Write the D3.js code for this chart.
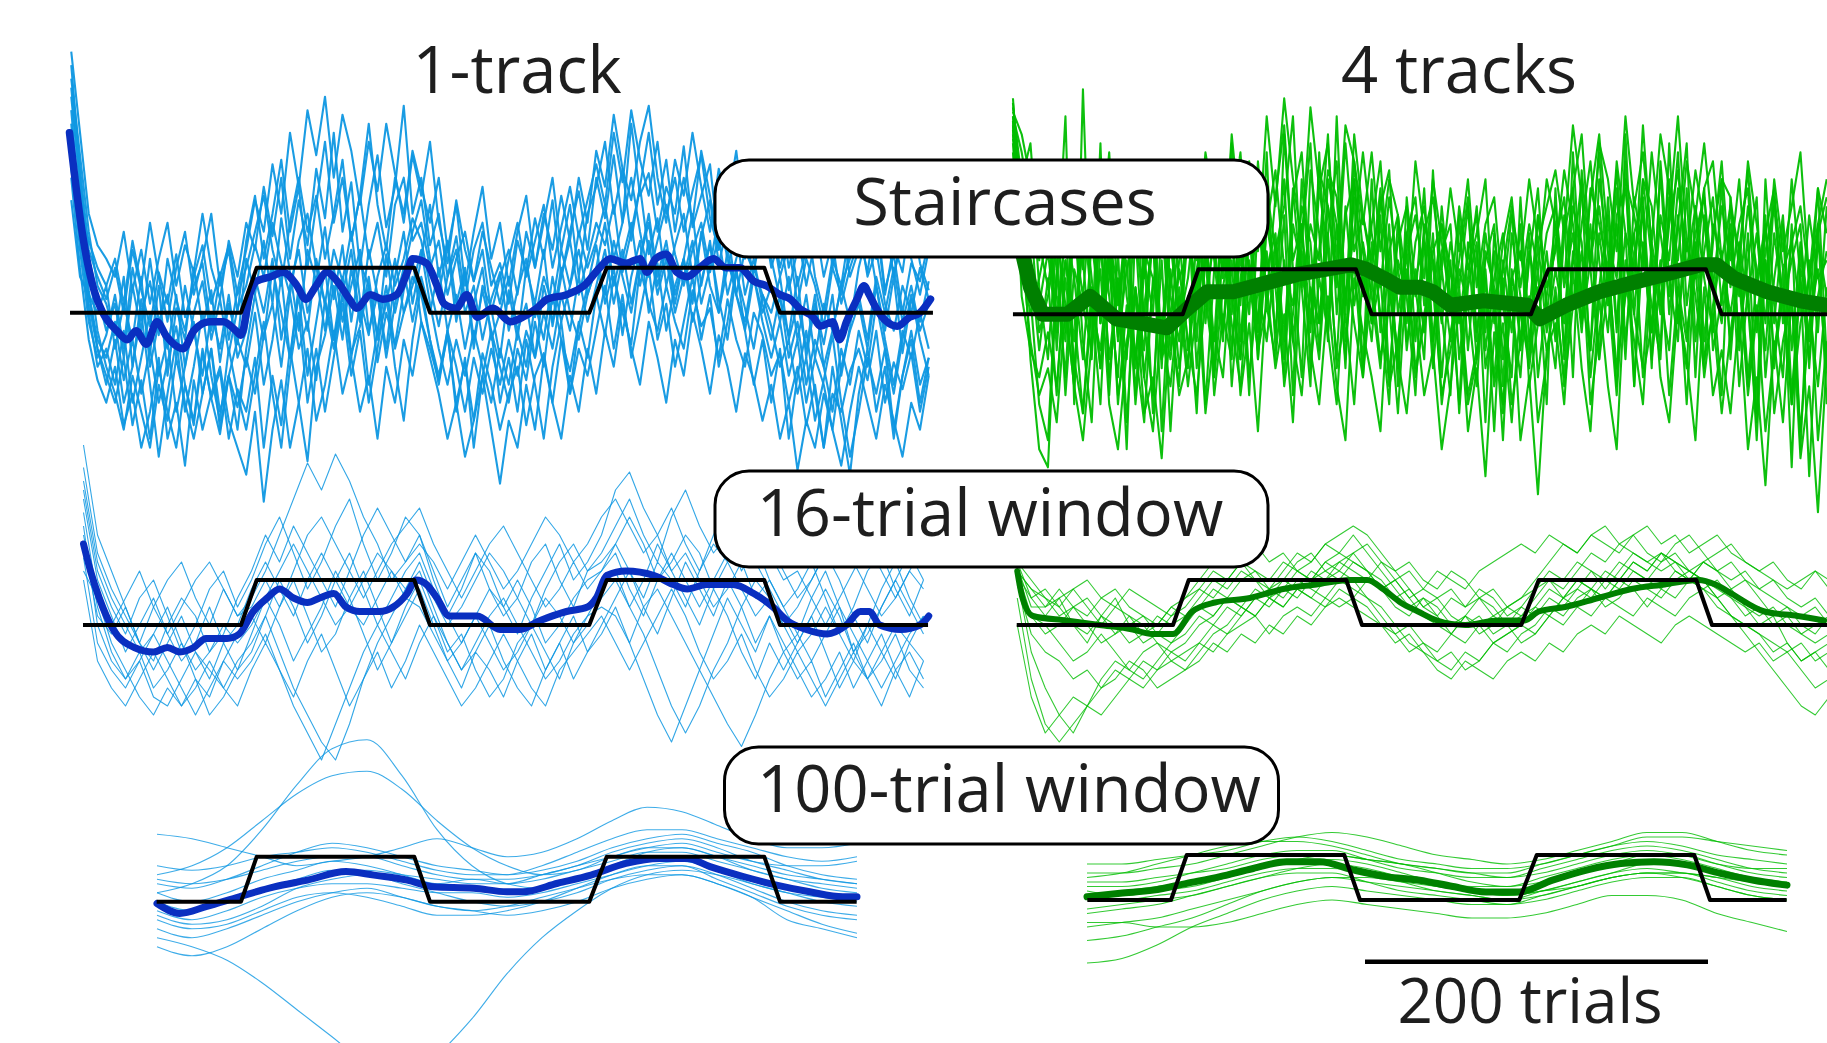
<!DOCTYPE html>
<html>
<head>
<meta charset="utf-8">
<script src="https://cdn.jsdelivr.net/npm/d3@7"></script>
<style>
  html, body { margin: 0; padding: 0; background: #fff; }
  svg { display: block; }
</style>
</head>
<body>
<svg id="chart" width="1827" height="1043"></svg>
<script>
// ---------------------------------------------------------------
// Target schedule (trials, level in tenths of one step: 10 = high)
// ---------------------------------------------------------------
const targetTrials = [0, 100, 109, 199, 208, 299, 309, 399, 408, 500];
const targetLevels = [0, 0, 10, 10, 0, 0, 10, 10, 0, 0];

// ---------------------------------------------------------------
// 1-track staircases: one run per session, sampled every 5 trials from trial 3
// ---------------------------------------------------------------
const stair1Start = 3, stair1Step = 5;
const stair1Runs = [
  [58,40,22,15,12, 8,18,5,14,2,12,20,6,15,9,22,10,3,16,8, 20,14,28,17,30,12,25,15,32,21, 40,18,29,10,24,35,19,28,46,22, 30,15,22,8,17,3,14,20,6,11, 2,16,9,21,12,25,8,18,27,14, 30,21,35,20,42,26,31,18,28,22, 37,19,26,33,15,24,30,12,22,17, 20,8,15,2,12,6,-3,10,4,14, 18,9,22,5,13,0,11,7,16],
  [45,22,5,-8,-14, -20,-10,-25,-15,-28,-12,-22,-30,-16,-24,-8,-19,-27,-14,-21, -10,-18,-5,2,-12,4,-8,-2,-15,3, -6,8,-9,-3,6,-11,0,-7,5,12, -2,-8,-15,-5,-20,-11,-24,-9,-16,-26, -18,-12,-25,-14,-9,-20,-6,-13,-2,-10, 4,-5,8,0,-7,10,2,-4,6,-2, -8,5,-3,1,-10,3,-6,-12,0,-5, -14,-9,-20,-12,-25,-16,-30,-18,-22,-13, -8,-15,-4,-20,-11,-17,-9,-22,-12],
  [52,35,18,6,2, -5,8,-12,3,-9,6,-14,1,-6,10,-3,5,-11,2,-7, 12,4,16,2,21,9,-4,14,7,19, 3,15,-2,11,6,-5,13,0,9,18, 25,12,4,15,-2,9,-8,6,1,-10, 5,-6,10,2,14,-3,8,16,4,12, 20,15,24,9,18,28,13,21,6,15, 22,8,17,25,11,19,4,14,9,20, 12,3,-5,8,-10,2,-7,4,-14,-3, 10,18,6,-4,8,-9,3,-2,7],
  [40,18,4,-6,-10, -2,-15,-6,-18,-8,-20,-11,-3,-16,-25,-9,-19,-13,-28,-17, -22,-10,-30,-14,-25,-8,-20,-33,-12,-5, 6,-6,10,-2,14,4,-8,8,18,2, 12,24,8,16,2,10,-6,5,-4,-12, -20,-8,-15,-2,-12,4,-6,-18,-3,6, 15,2,10,-5,8,16,0,11,-4,6, 12,-2,7,15,3,-6,9,1,-8,4, -3,-12,-6,-18,-10,-24,-15,-5,-20,-32, -22,-10,-18,-8,-26,-14,-4,-16,-10],
  [35,14,-2,-10,-5, 4,-8,10,0,7,-5,12,3,-4,8,15,2,9,-6,5, 14,25,18,33,22,40,28,45,35,48, 30,44,36,24,38,27,42,31,20,35, 26,38,20,11,25,14,7,18,10,2, 12,20,8,16,24,10,19,28,17,25, 33,24,40,29,45,34,26,38,22,30, 18,27,35,21,14,25,19,30,13,22, 10,17,5,14,22,8,0,12,6,19, 25,13,20,4,15,9,23,11,5],
  [30,10,-6,-15,-20, -12,-25,-18,-30,-22,-10,-28,-20,-34,-15,-26,-18,-12,-24,-30, -36,-22,-42,-26,-15,-30,-20,-8,-24,-16, -4,-18,-10,-22,-14,-28,-12,-20,-6,-14, -2,-10,-18,-28,-20,-32,-24,-14,-26,-38, -24,-30,-16,-26,-10,-20,-28,-14,-22,-8, -18,-4,-12,2,-8,-16,-2,-10,-20,-6, -14,0,-8,-18,-5,-12,-22,-9,-15,-24, -16,-28,-20,-35,-24,-30,-18,-26,-34,-22, -12,-20,-28,-16,-24,-32,-20,-26,-14],
  [48,28,12,4,-4, 2,-10,6,-4,12,-2,-8,4,-12,0,7,-6,3,-9,1, 6,15,8,20,11,4,16,22,10,2, 14,7,18,3,-5,8,15,6,12,21, 16,6,-3,8,14,0,6,-6,3,9, -4,5,12,-1,8,2,14,6,18,10, 16,24,12,20,30,18,8,16,24,13, 6,14,20,9,17,4,12,18,8,0, 6,-2,8,-6,4,-10,2,-4,6,12, 20,8,14,2,-4,6,0,10,3],
  [55,32,14,8,3, 10,0,14,5,-3,9,2,13,-1,6,11,-4,8,15,4, 10,18,26,14,6,20,30,18,26,12, 22,34,16,26,12,20,8,24,30,16, 20,10,16,4,12,18,7,14,0,8, 14,4,18,10,22,14,26,16,30,20, 36,28,44,32,25,38,46,30,20,34, 26,40,28,18,32,24,36,20,28,14, 22,10,18,6,14,20,8,16,2,10, 16,26,12,20,8,18,12,4,14],
  [42,20,0,-12,-8, -16,-4,-20,-10,0,-14,-6,-22,-12,-2,-18,-8,-26,-14,-6, -12,0,-16,-6,8,-10,4,-14,-2,10, -6,4,-10,2,-16,-4,6,-8,0,8, 4,-6,-14,-4,-12,-22,-10,-18,-8,-16, -6,-14,-4,-10,0,-8,4,-4,8,-2, 6,14,2,12,20,6,16,4,12,0, 8,16,2,10,22,12,4,-4,8,-2, -10,-2,-14,-6,-20,-10,-16,-26,-12,-4, 2,-8,6,-6,-16,-4,-10,0,-8],
  [25,8,4,0,6, -8,2,-6,8,-12,-2,4,-10,6,-4,-14,0,-8,4,-10, -4,8,0,12,-6,6,14,0,8,-4, 10,-2,6,14,-4,4,-10,2,10,-2, 8,0,10,-4,4,-8,2,10,-6,0, 8,-4,2,-10,6,-2,10,0,-6,4, 10,4,16,8,0,12,20,6,14,2, 12,2,18,6,0,14,4,-2,10,4, 0,8,-6,2,-8,4,-12,-4,6,-2, 4,-6,8,0,10,-2,6,-4,2],
  [50,30,10,-4,-12, -18,-26,-14,-22,-30,-16,-24,-10,-20,-28,-18,-8,-22,-14,-26, -8,4,-6,10,0,-10,6,-4,12,2, -8,4,14,-2,8,-6,2,12,0,6, 14,2,-8,-16,-6,-14,-4,-12,-20,-8, -16,-4,-12,2,-6,8,-2,6,14,4, 10,20,6,14,2,12,22,8,16,4, 12,22,6,16,0,10,18,4,12,2, -6,4,-10,-2,-16,-6,-12,-22,-8,-16, -4,-12,2,-8,-18,-6,4,-6,-14],
  [38,24,16,10,6, 12,2,16,6,20,8,-2,10,18,4,12,22,6,14,0, 16,26,12,22,34,18,28,10,24,38, 20,30,16,26,42,24,14,30,22,36, 28,20,30,14,24,6,18,28,12,20, 6,18,26,10,20,30,14,24,8,22, 28,38,22,32,16,28,40,24,34,18, 30,20,36,26,14,28,22,32,18,26, 14,24,10,18,6,16,26,10,20,8, 14,26,12,22,8,18,28,14,20],
  [32,16,2,-8,-16, -6,-20,-12,0,-16,-32,-18,-6,-22,-12,0,-14,-24,-8,-18, -26,-14,-2,-18,-30,-12,0,-20,-8,-22, -10,2,-14,-4,-20,-8,4,-12,-24,-6, 6,-6,-16,-4,-22,-10,-30,-14,-4,-20, -10,-22,-6,-16,-28,-12,-2,-18,-8,-14, -4,6,-8,4,-10,0,10,-6,2,-12, -2,8,-6,4,-12,-2,10,-4,-16,-6, -20,-8,-28,-14,-4,-18,-30,-12,-24,-36, -18,-8,-22,-12,-28,-14,-6,-20,-10]
];
// Session average of the 1-track staircases: [trial, level]
const stair1Mean = [[2,40],[10,16],[16,5],[21,0],[29,-4],[35,-6],[40,-4],[46,-7],[52,-2],[57,-5],[67,-8],[73,-4],[82,-2],[90,-2],[97,-4],[100,-5],[105,4],[109,7],[117,8],[124,9],[132,6],[137,3],[143,6],[149,9],[155,7],[162,3],[166,1],[174,4],[181,3],[189,4],[195,9],[198,12],[206,11],[212,6],[216,2],[223,1],[229,4],[235,-1],[244,1],[254,-2],[261,-1],[269,1],[275,3],[286,4],[296,6],[305,10],[311,12],[320,11],[328,12],[332,9],[337,12],[343,13],[349,9],[355,8],[362,10],[370,12],[377,10],[385,10],[393,7],[400,6],[408,4],[414,3],[419,1],[427,-1],[431,-3],[438,-2],[442,-6],[446,-2],[452,3],[456,6],[459,4],[463,1],[469,-2],[475,-3],[482,-1],[488,0],[494,3]];

// ---------------------------------------------------------------
// 4 interleaved tracks: staircases sampled every 5 trials from trial 3
// ---------------------------------------------------------------
const stair4Start = 3, stair4Step = 5;
const stair4Runs = [
  [46,30,38,12, 28,-8,20,-15,24,2,-20,18,-5,26,-12,14,-22,22,0,-16, 30,-6,24,-14,34,4,-10,28,-4,36, -8,40,10,-14,32,18,-6,44,2,26,-12, 30,-4,20,-16,26,6,-10,32,0, -18,22,-8,14,-24,18,2,-14,26,-6,10,-20, 28,-10,36,4,-8,30,14,-16,40,0,24,-12,34,8,-6,28,-14,22,6,-18, 26,-8,18,-22,30,2,-14,20,-30,12,-4,24],
  [42,18,4,-20, -28,10,-14,22,-6,-24,16,-10,8,-30,20,-2,-18,12,-26,6, -12,18,-20,10,24,-8,14,-18,22,2, 16,-10,28,6,-16,36,-4,20,-12,30,8, -6,22,-14,12,4,-18,18,-8,24, 4,-20,16,-10,8,-26,12,-4,20,-16,-2,14, -6,22,-14,32,10,-10,26,-2,18,-16,30,12,-8,38,2,-12,24,8,-4,30, -10,16,2,-24,22,-12,10,-34,14,-6,20,-20],
  [48,20,-10,-30, -34,8,44,-20,50,-6,38,-18,14,-24,6,-8,18,-26,10,-12, 4,-22,16,-6,26,-16,8,20,-10,14, -4,22,-18,30,4,-10,18,34,-6,12,-14, 16,0,-20,22,-8,10,-4,18,-14, 12,-22,6,16,-12,2,-28,10,-6,18,-14,4, 20,-8,12,30,-14,6,22,-4,34,-16,16,2,-10,26,10,-20,14,28,-8,4, 18,-16,6,-28,12,-2,20,-18,8,-36,4,14],
  [44,36,24,16, 6,22,-4,28,12,-10,24,4,-14,18,30,-2,20,-12,26,8, 14,32,-2,20,10,38,-6,18,30,4, 26,42,12,20,-2,32,24,6,38,14,22, 10,28,2,16,24,-6,20,12,-2, 16,6,24,-4,12,20,-10,8,14,0,22,6, 14,32,20,4,26,40,16,8,30,22,10,36,18,4,28,14,32,20,6,24, 12,30,4,18,-2,26,10,16,0,22,8,12],
  [40,14,-6,-18, -12,-24,2,-16,-28,-6,10,-20,-30,-8,4,-22,-14,-32,0,-18, -10,8,-22,-4,-14,12,-18,-2,-26,6, -12,0,-24,14,-8,-20,4,-16,-28,8,-4, -14,-26,6,-10,-22,0,-18,-8,-30, -16,2,-26,-12,-36,-4,-20,6,-28,-14,-40,-8, -2,-20,10,-12,-26,4,-16,-30,8,-6,-20,12,-14,-24,2,-10,-28,6,-18,-8, -22,0,-30,-14,-38,-6,-24,4,-32,-16,-44,-10],
  [47,26,10,2, 14,-4,20,8,-10,16,0,24,-6,10,18,-14,6,22,-8,12, 20,2,28,12,-6,24,16,0,34,10, 18,-6,26,36,8,14,40,0,22,30,4, 20,34,6,-8,18,26,2,14,20, 0,12,26,-6,18,4,10,24,-8,12,28,0, 16,26,2,20,34,12,-4,22,28,6,42,14,0,20,32,10,24,-6,16,34, 6,20,28,-4,14,24,2,30,8,-10,18,26],
  [38,8,22,-4, 4,16,-18,10,2,-8,20,-14,6,12,-20,2,16,-10,-2,18, -8,10,22,-14,6,18,-10,12,-2,26, 6,-14,20,10,-4,28,14,-10,24,2,16, 4,-12,14,22,-6,8,16,-12,10, -6,10,2,-16,14,6,-22,8,0,-10,16,-4, 10,-2,24,16,-8,18,2,28,-6,14,22,-10,8,30,-2,16,4,-12,20,12, 0,14,-14,8,20,-10,4,-20,10,2,-16,6],
  [45,40,30,20, 26,10,32,18,4,28,14,36,2,22,30,8,24,34,6,20, 28,12,36,24,8,40,20,32,14,44, 24,48,30,16,46,28,38,12,42,34,20, 36,14,30,22,6,34,18,26,10, 28,14,30,6,20,26,4,22,12,30,16,24, 32,18,42,26,10,38,30,14,44,24,36,16,40,28,12,34,22,38,18,30, 26,10,34,20,4,30,14,24,36,8,28,18],
  [43,4,-8,-14, -4,-16,8,-10,-22,2,-8,12,-18,-6,6,-14,-26,0,-10,10, -6,-18,4,-12,14,-2,-16,8,-8,2, -10,12,-6,-18,6,-2,18,-12,0,-20,10, -2,8,-16,-6,14,-12,-2,6,-18, -8,4,-20,-10,10,-16,-2,-24,2,-12,6,-8, 4,-14,14,-4,20,-10,6,-18,12,0,-12,16,4,-8,22,-4,10,-14,2,14, -6,8,-18,0,12,-22,-6,4,-26,-2,10,-12],
  [36,12,0,8, 18,0,12,-6,16,22,-2,8,26,4,-10,14,8,-4,20,-2, 8,26,4,16,30,0,22,10,-8,20, 32,10,2,24,16,-8,30,20,4,18,36, 18,6,26,10,-2,16,24,4,20, 10,-2,14,22,-8,8,18,2,-14,14,4,18, 24,6,18,-2,28,20,10,32,4,18,26,-4,22,12,36,2,18,26,8,-2, 16,4,24,10,-8,18,2,12,20,-12,16,4],
  [41,22,34,6, -10,18,2,-16,26,8,-12,14,-4,22,-18,10,28,-8,16,-2, 24,-12,12,30,-4,16,2,34,-10,20, 8,30,-6,16,38,-2,24,10,-10,34,14, -2,26,12,-12,18,4,28,-6,14, 20,-10,8,24,-4,14,-16,18,4,-8,22,2, -12,18,28,-2,12,36,4,20,-10,26,14,-4,32,0,20,38,-6,14,26,2, 20,-6,12,26,-14,8,22,-8,16,0,28,-10],
  [39,28,12,-8, 8,-18,12,0,-22,6,-12,16,-20,2,-8,-24,8,-4,-16,4, -16,2,14,-18,0,-10,18,-14,6,-6, 14,-16,0,20,-12,8,-4,-20,12,-2,-14, 8,-10,2,-22,10,-14,0,12,-20, -4,6,-18,-8,2,-14,8,-20,-6,4,-24,-10, 6,-16,2,14,-20,-4,10,-12,4,18,-14,-2,12,-18,6,-6,16,-10,0,-22, -4,10,-16,2,-26,-8,6,-20,-2,8,-28,-6],
  [44,10,26,14, 20,4,-6,24,10,30,-2,16,6,-10,26,12,0,32,4,-6, 18,6,30,16,-4,22,36,8,18,28, 14,24,44,6,20,12,32,26,0,40,22, 12,24,32,0,14,22,8,30,16, 2,24,10,18,30,-2,16,26,6,20,10,30, 20,8,28,40,12,24,6,34,18,10,30,24,2,22,44,16,8,28,34,12, 24,14,32,6,18,28,-2,16,24,8,20,30]
];
const stair4Mean = [[3,30],[7,16],[13,6],[20,0],[34,0],[47,4],[62,-1],[91,-3],[102,1],[114,5],[129,5],[148,7],[167,9],[196,11],[205,10],[215,8],[224,6],[236,6],[243,5],[253,2],[272,3],[297,2],[304,-1],[319,2],[338,5],[357,7],[377,9],[396,11],[405,11],[415,8],[434,5],[453,3],[468,2]];

// ---------------------------------------------------------------
// 16-trial moving window, 1 track: every 8 trials from trial 10
// ---------------------------------------------------------------
const win16aStart = 10, win16aStep = 8;
const win16aRuns = [
  [30,12, 4,-2,6,10,2,-6,0,8,12,4, 10, 18,24,16,8,14,22,28,18,10,16,24, 20, 12,4,10,16,8,2,6,14,18,10,4,12, 16, 22,28,20,14,24,30,22,16,20,12,18,10, 4, 8,14,6,-2,4,12,16,8,2,10],
  [22,0, -8,-12,-6,-14,-10,-4,-12,-16,-8,-2, 2, -4,4,10,2,-6,-2,6,12,4,-4,2, 8, 0,-8,-14,-6,-10,-16,-8,-2,-10,-4,2,-6, 0, 6,12,4,-2,6,14,8,2,10,4,-4,2, -6, -12,-8,-16,-10,-4,-12,-18,-10,-6,-12],
  [35,16, 8,2,-4,4,10,14,6,0,8,2, 6, 12,20,28,36,30,38,32,24,18,10,14, 20, 10,2,8,16,12,4,-2,6,12,18,10,14, 20, 30,34,26,20,12,16,10,4,8,14,6,10, 4, -2,6,12,4,-6,0,8,14,6,0],
  [15,-4, -10,-14,-8,-16,-18,-12,-6,-10,-14,-8, -4, 2,-6,-14,-20,-26,-30,-22,-12,-4,2,8, 12, 4,-4,-10,-6,0,-8,-14,-18,-10,-4,-12,-6, -2, 4,-4,-12,-20,-26,-18,-10,-2,6,0,-6,2, -4, -10,-16,-12,-6,-14,-8,-2,-10,-16,-8],
  [40,20, 12,4,-4,-10,-4,2,-6,-12,-4,0, 8, 14,8,2,10,16,10,4,0,6,12,8, 14, 6,0,4,10,16,12,6,0,8,14,18,12, 14, 18,12,6,14,10,4,12,18,14,8,2,6, 0, 4,10,16,10,2,-4,4,10,4,-2],
  [25,6, -4,-10,-16,-20,-14,-18,-12,-20,-16,-10, -2, 6,0,-8,-2,4,12,6,-2,-10,-4,4, 10, 2,-6,-2,-10,-16,-12,-4,0,-6,-12,-4,2, 8, 12,4,10,18,12,6,0,8,2,-6,-12,-4, -10, -4,2,-6,-14,-8,0,-6,-12,-4,2],
  [18,2, -2,4,-4,-8,0,6,2,-6,-2,6, 12, 20,14,22,16,10,4,12,20,26,20,14, 18, 14,8,14,20,14,8,12,18,24,20,14,18, 24, 28,22,16,20,26,18,12,20,26,30,22,18, 12, 6,10,16,20,14,8,2,6,12,8],
  [10,-8, -14,-18,-12,-6,-12,-18,-14,-8,-14,-18, -10, -4,-10,-16,-8,-2,-10,-18,-12,-6,-14,-8, 0, -6,-12,-18,-14,-8,-2,-8,-14,-18,-10,-6,-2, 2, -4,-10,-4,2,8,2,-6,-12,-8,-2,-10,-16, -12, -6,-12,-18,-12,-6,-12,-8,-2,-10,-14],
  [28,10, 2,-6,0,6,-2,-8,-4,4,-4,-10, -6, 2,10,4,-4,2,10,16,8,0,6,12, 16, 8,2,-4,2,8,4,10,4,-4,0,6,10, 12, 16,8,2,10,16,10,4,10,16,20,14,8, 2, -4,2,8,2,-6,-2,4,10,16,10],
  [32,14, 6,0,-6,-2,4,-4,-10,-6,0,-4, 0, 6,12,18,12,6,0,4,10,16,12,6, 4, -2,-8,-4,2,-4,-10,-6,0,6,2,-4,0, 6, 10,4,-2,-10,-18,-24,-18,-10,-4,4,10,6, 0, -6,-2,4,-2,-8,-12,-6,0,-4,-8],
  [20,4, -6,-12,-8,-2,-8,-14,-20,-14,-8,-12, -8, -2,-10,-18,-24,-30,-22,-14,-6,0,-6,-12, -4, 2,-4,-10,-4,2,6,0,-6,-12,-8,-2,2, 4, 2,-4,4,8,2,-4,-10,-16,-22,-27,-20,-12, -6, -2,-8,-2,4,-2,-8,-14,-8,-2,2],
  [12,6, 0,6,12,4,-2,4,10,14,8,2, 4, 10,4,12,20,24,18,12,6,12,18,22, 26, 18,12,6,12,18,22,16,10,4,8,14,8, 12, 18,24,18,10,14,20,16,8,14,20,24,16, 10, 12,6,0,6,12,18,12,6,12,18]
];
const win16aMean = [[10,18],[14,12],[19,6],[27,-1],[39,-5],[50,-6],[58,-5],[65,-6],[73,-5],[80,-3],[92,-3],[99,-2],[107,3],[115,6],[122,8],[130,6],[138,5],[145,6],[153,7],[160,4],[168,3],[179,3],[187,4],[195,7],[200,10],[206,9],[212,6],[219,2],[235,2],[248,-1],[259,-1],[271,1],[286,3],[298,4],[303,6],[309,11],[320,12],[336,11],[347,9],[355,8],[366,9],[381,9],[393,7],[404,4],[412,1],[423,-1],[435,-2],[446,0],[454,3],[459,3],[465,0],[477,-1],[488,0],[493,2]];

// ---------------------------------------------------------------
// 16-trial moving window, 4 tracks: every 8 trials from trial 11
// ---------------------------------------------------------------
const win16bStart = 11, win16bStep = 8;
const win16bRuns = [
  [14,6, 2,6,0,-4,2,6,0,-4,-2,2, 4,8,6,10,14,10,8,12,16,14,18,16, 20,16,12,8,4,6,2,-2,2,6,4,0,2, 6,10,8,12,16,14,18,20,16,14,18,20,16, 12,8,10,6,2,4,0,-2,2],
  [10,-6, -14,-20,-24,-18,-12,-8,-10,-6,-4,-8, -10,-6,-2,0,4,2,6,4,8,6,10,12, 10,6,2,-2,0,-4,-6,-2,-4,0,2,0,4, 2,6,4,8,6,10,8,12,10,8,12,10,8, 4,2,0,-2,-4,-6,-10,-14,-12],
  [6,-12, -22,-26,-22,-18,-20,-16,-12,-14,-10,-8, -6,-4,0,-2,2,6,4,8,6,10,12,10, 14,12,8,10,6,2,0,-2,2,0,-4,-2,0, 4,2,6,10,8,6,10,14,12,16,14,12,10, 6,8,4,0,2,-4,-8,-6,-10],
  [12,8, 6,4,8,10,6,4,8,6,4,2, 6,10,14,18,22,18,14,16,12,14,18,20, 22,20,16,12,14,10,8,12,10,6,8,4,6, 10,14,18,16,20,18,16,20,22,18,20,16,18, 20,16,14,12,10,8,10,12,8],
  [12,2, 0,-4,-8,-6,-2,-6,-10,-12,-8,-4, -2,2,0,4,2,6,8,6,10,8,6,10, 8,6,4,0,-4,-6,-8,-6,-10,-8,-4,-6,-2, 0,4,2,6,8,4,6,10,8,6,10,12,10, 8,6,4,2,4,0,-2,-4,-2],
  [13,4, 4,8,4,2,6,8,4,2,0,4, 2,6,10,8,12,10,6,8,12,10,14,12, 16,12,10,6,8,4,2,6,4,8,6,2,4, 8,12,10,14,12,8,12,16,14,12,14,10,8, 10,6,2,4,0,2,-2,0,2],
  [0,-16, -24,-20,-16,-18,-14,-10,-12,-8,-10,-6, -8,-4,-6,-2,0,2,-2,2,4,2,6,4, 6,4,0,-2,-6,-4,-8,-10,-6,-8,-4,-2,0, -2,2,0,4,2,6,4,2,6,4,2,6,8, 6,2,0,-2,-6,-4,-8,-6,-4],
  [10,2, -2,0,4,0,-4,-2,2,0,-4,-6, -4,0,2,6,4,8,6,10,8,12,10,14, 16,18,14,10,12,8,6,8,4,6,2,4,6, 8,10,6,8,12,10,14,12,10,14,16,12,10, 6,2,-2,-6,-10,-14,-18,-20,-16],
  [11,6, 8,4,0,-2,2,0,-4,-2,2,0, 2,4,8,6,10,12,8,10,14,16,12,14, 12,10,14,12,8,4,6,2,0,2,-2,0,-4, -2,2,6,4,8,12,10,14,12,16,14,12,14, 12,10,12,8,10,6,4,6,2],
  [14,10, 6,2,4,6,2,-2,0,2,-2,-4, 0,4,2,6,4,2,6,4,8,6,4,8, 6,10,8,4,2,6,4,0,2,-2,0,4,2, 4,8,6,10,8,6,10,8,4,8,6,10,14, 12,14,10,8,6,4,2,4,0],
  [12,8, 4,6,8,4,0,4,2,-2,0,4, 6,8,12,10,14,12,10,14,12,10,14,16, 14,12,8,10,6,8,12,10,8,12,14,16,18, 16,20,18,16,20,22,18,16,14,16,12,10,14, 16,18,14,12,14,10,8,12,10],
  [9,-2, -6,-8,-12,-10,-14,-12,-8,-10,-14,-12, -10,-8,-4,-6,-2,-4,0,-2,2,0,4,6, 4,2,0,-4,-2,-6,-10,-12,-8,-10,-12,-8,-6, -8,-4,-6,-2,0,-2,2,0,-2,-4,0,2,0, -2,-4,-6,-4,-8,-6,-4,-8,-6]
];
const win16bMean = [[11,12],[14,6],[20,2],[39,1],[58,0],[77,-1],[88,-2],[100,-2],[111,3],[124,5],[144,6],[163,8],[182,9],[201,10],[211,10],[220,8],[230,5],[240,3],[251,1],[267,0],[286,1],[301,1],[309,3],[324,4],[343,6],[362,8],[381,9],[400,10],[410,9],[419,7],[438,3],[457,2],[472,1]];

// ---------------------------------------------------------------
// 100-trial moving window: every 20 trials from trial 52
// ---------------------------------------------------------------
const win100aStart = 52, win100aStep = 20;
const win100aRuns = [
  [4,3,5,8,11,13,12,10,8,7,6,7,9,12,14,15,13,11,8,6,5],
  [-6,-8,-6,-3,0,2,3,1,-1,-2,-3,-2,0,3,5,6,4,1,-4,-6,-8],
  [2,0,2,5,7,9,8,6,4,5,4,6,8,11,13,14,12,9,7,5,4],
  [-3,-5,-4,-1,3,5,6,4,2,0,-1,0,2,5,7,8,6,3,0,-2,-3],
  [6,8,12,18,24,28,29,25,18,12,8,6,7,10,12,13,11,9,8,8,9],
  [-8,-10,-13,-18,-24,-30,-36,-38,-34,-26,-16,-8,-2,3,6,7,6,4,2,1,0],
  [0,-2,0,3,5,7,7,6,5,4,4,5,7,9,11,11,9,7,5,3,2],
  [8,7,8,10,11,12,11,9,7,6,6,8,11,14,16,16,14,12,10,9,10],
  [-4,-6,-5,-2,1,2,1,-1,-3,-3,-2,0,3,6,8,8,5,2,-1,-3,-4],
  [2,4,8,16,26,34,36,28,16,8,4,3,5,8,11,12,10,7,5,4,3],
  [-2,-4,-2,1,3,4,4,3,2,2,1,2,4,6,8,9,7,4,2,0,-1],
  [5,4,5,7,9,10,10,8,6,5,5,6,8,10,12,12,10,8,6,5,4],
  [-10,-12,-10,-6,-2,1,2,1,-1,-2,-1,1,3,5,6,6,4,1,-2,-5,-7],
  [15,14,12,10,8,9,10,12,14,12,10,11,14,18,21,20,17,14,12,12,13]
];
const win100aMean = [[52,-0.4],[65,-2.6],[80,-1.1],[99,1.1],[119,3.3],[138,4.8],[160,6.7],[176,5.9],[195,4.8],[210,3.3],[233,3],[252,2.2],[261,2.2],[281,4.1],[300,5.9],[320,8.5],[339,9.6],[355,9.6],[368,7.8],[387,5.6],[406,3.7],[425,2.2],[444,1.1],[452,1.1]];

const win100bStart = 52, win100bStep = 20;
const win100bRuns = [
  [6,6,7,8,10,12,14,15,14,12,10,9,8,9,11,13,15,15,13,11,10],
  [-2,-1,0,1,3,5,6,6,4,2,1,0,-1,0,2,4,5,5,3,1,0],
  [-14,-13,-10,-6,-3,0,2,3,2,1,0,-1,-1,1,3,5,6,5,3,1,0],
  [-9,-8,-6,-4,-1,2,4,5,4,3,2,1,0,2,4,6,7,6,5,3,2],
  [3,3,4,6,8,10,11,11,9,7,6,5,5,7,9,11,12,11,9,7,6],
  [1,2,3,4,6,8,9,9,8,6,4,3,3,5,7,9,10,9,7,5,4],
  [-5,-5,-6,-6,-5,-3,-1,0,-1,-2,-3,-4,-4,-3,-1,1,1,0,-3,-5,-7],
  [5,6,8,10,12,13,13,12,10,8,7,6,6,8,10,12,13,12,10,9,8],
  [-3,-2,-1,1,3,5,7,8,7,5,3,2,1,2,4,6,8,8,6,4,3],
  [8,8,9,10,11,13,14,13,11,9,8,7,7,8,10,12,14,14,13,12,11],
  [0,0,1,2,4,6,7,7,6,4,2,1,0,1,3,5,6,6,5,4,3],
  [2,1,2,3,5,7,9,10,9,8,6,4,3,4,6,8,10,10,8,6,5],
  [-6,-5,-4,-2,0,2,4,5,5,4,3,2,1,2,3,5,6,6,4,2,1],
  [4,4,5,6,7,9,10,10,9,8,7,6,5,6,8,10,11,10,8,7,7]
];
const win100bMean = [[52,0.7],[71,1.5],[90,2.2],[109,3.7],[128,5.2],[147,7],[166,8.5],[185,8.5],[204,6.7],[223,5.2],[242,4.4],[261,3],[280,1.8],[299,1.8],[318,4.4],[338,6.7],[357,8.1],[376,8.5],[395,7.8],[414,5.9],[433,4.4],[452,3.3]];

// Text
const columnTitles = ["1-track", "4 tracks"];
const rowLabels = ["Staircases", "16-trial window", "100-trial window"];
const scaleBarTrials = 200;
const scaleBarLabel = "200 trials";

// ---------------------------------------------------------------
// Layout
// ---------------------------------------------------------------
const svg = d3.select("#chart");
const PX_PER_TRIAL = 1.75;   // horizontal scale shared by every panel
const PX_PER_STEP = 45;      // one target step (10 tenths)

const BLUE = "#0e97e2", BLUE_DARK = "#0a2fc0";
const GREEN = "#00bd00", GREEN_DARK = "#008000";
const FONT = "'Open Sans', 'Noto Sans', sans-serif";
const INK = "#1e1e1e";

const panels = [
  { left: 66,     base: 312.7, tFrom: 2.3,  tTo: 495.4, start: stair1Start,  step: stair1Step,  runs: stair1Runs,  mean: stair1Mean,
    runColor: BLUE,  runWidth: 2.1, runOpacity: 0.95, runCurve: d3.curveLinear,
    meanColor: BLUE_DARK, meanWidth: 7.5, meanCurve: d3.curveMonotoneX },
  { left: 1007.7, base: 314.3, tFrom: 3,    tTo: 500,   start: stair4Start,  step: stair4Step,  runs: stair4Runs,  mean: stair4Mean,
    runColor: GREEN, runWidth: 2.1, runOpacity: 0.95, runCurve: d3.curveLinear,
    meanColor: GREEN_DARK, meanWidth: 15, meanCurve: d3.curveLinear },
  { left: 66,     base: 625,   tFrom: 9.7,  tTo: 492.6, start: win16aStart, step: win16aStep, runs: win16aRuns, mean: win16aMean,
    runColor: BLUE,  runWidth: 1.1, runOpacity: 0.85, runCurve: d3.curveLinear,
    meanColor: BLUE_DARK, meanWidth: 7, meanCurve: d3.curveMonotoneX },
  { left: 998,    base: 625,   tFrom: 10.7, tTo: 500,   start: win16bStart, step: win16bStep, runs: win16bRuns, mean: win16bMean,
    runColor: GREEN, runWidth: 1.1, runOpacity: 0.8, runCurve: d3.curveLinear,
    meanColor: GREEN_DARK, meanWidth: 6, meanCurve: d3.curveMonotoneX },
  { left: 66,     base: 901.7, tFrom: 51.8, tTo: 451.8, start: win100aStart, step: win100aStep, runs: win100aRuns, mean: win100aMean,
    runColor: BLUE,  runWidth: 1.1, runOpacity: 0.8, runCurve: d3.curveMonotoneX,
    meanColor: BLUE_DARK, meanWidth: 7, meanCurve: d3.curveMonotoneX },
  { left: 996,    base: 900,   tFrom: 52.2, tTo: 451.8, start: win100bStart, step: win100bStep, runs: win100bRuns, mean: win100bMean,
    runColor: GREEN, runWidth: 1.1, runOpacity: 0.8, runCurve: d3.curveMonotoneX,
    meanColor: GREEN_DARK, meanWidth: 7, meanCurve: d3.curveMonotoneX }
];

function targetPath(from, to) {
  const pts = [[from, 0]];
  targetTrials.forEach((t, i) => { if (t > from && t < to) pts.push([t, targetLevels[i]]); });
  pts.push([to, 0]);
  return pts;
}

panels.forEach(p => {
  const x = d3.scaleLinear().domain([0, 500]).range([p.left, p.left + 500 * PX_PER_TRIAL]);
  const y = d3.scaleLinear().domain([0, 10]).range([p.base, p.base - PX_PER_STEP]);
  const g = svg.append("g");

  const runLine = d3.line()
    .x((d, i) => x(p.start + i * p.step))
    .y(d => y(d))
    .curve(p.runCurve);

  g.append("g").selectAll("path").data(p.runs).join("path")
    .attr("d", runLine)
    .attr("fill", "none")
    .attr("stroke", p.runColor)
    .attr("stroke-width", p.runWidth)
    .attr("stroke-opacity", p.runOpacity)
    .attr("stroke-linejoin", "round");

  const meanLine = d3.line().x(d => x(d[0])).y(d => y(d[1])).curve(p.meanCurve);
  g.append("path")
    .attr("d", meanLine(p.mean))
    .attr("fill", "none")
    .attr("stroke", p.meanColor)
    .attr("stroke-width", p.meanWidth)
    .attr("stroke-linejoin", "round")
    .attr("stroke-linecap", "round");

  const tgtLine = d3.line().x(d => x(d[0])).y(d => y(d[1]));
  g.append("path")
    .attr("d", tgtLine(targetPath(p.tFrom, p.tTo)))
    .attr("fill", "none")
    .attr("stroke", "#000")
    .attr("stroke-width", 4)
    .attr("stroke-linejoin", "round");
});

// Row labels in rounded boxes
const boxes = [
  { x: 715,   y: 160, w: 553, h: 97, tx: 1005, ty: 225 },
  { x: 715,   y: 471, w: 553, h: 96, tx: 990,  ty: 536 },
  { x: 724.5, y: 747, w: 554, h: 97, tx: 1009, ty: 811.5 }
];
boxes.forEach((b, i) => {
  svg.append("rect")
    .attr("x", b.x).attr("y", b.y).attr("width", b.w).attr("height", b.h)
    .attr("rx", 34).attr("ry", 34)
    .attr("fill", "#fff").attr("stroke", "#000").attr("stroke-width", 3);
  svg.append("text")
    .attr("x", b.tx).attr("y", b.ty)
    .attr("text-anchor", "middle")
    .attr("font-family", FONT).attr("font-size", 65)
    .attr("fill", INK)
    .text(rowLabels[i]);
});

// Column titles
[[517, 93], [1459, 93]].forEach((pos, i) => {
  svg.append("text")
    .attr("x", pos[0]).attr("y", pos[1])
    .attr("text-anchor", "middle")
    .attr("font-family", FONT).attr("font-size", 65)
    .attr("fill", INK)
    .text(columnTitles[i]);
});

// Scale bar
const barX = 1365, barY = 961.7;
svg.append("line")
  .attr("x1", barX).attr("x2", barX + scaleBarTrials * PX_PER_TRIAL * 0.98)
  .attr("y1", barY).attr("y2", barY)
  .attr("stroke", "#000").attr("stroke-width", 4.5);
svg.append("text")
  .attr("x", 1530).attr("y", 1023)
  .attr("text-anchor", "middle")
  .attr("font-family", FONT).attr("font-size", 62)
  .attr("fill", INK)
  .text(scaleBarLabel);
</script>
</body>
</html>
